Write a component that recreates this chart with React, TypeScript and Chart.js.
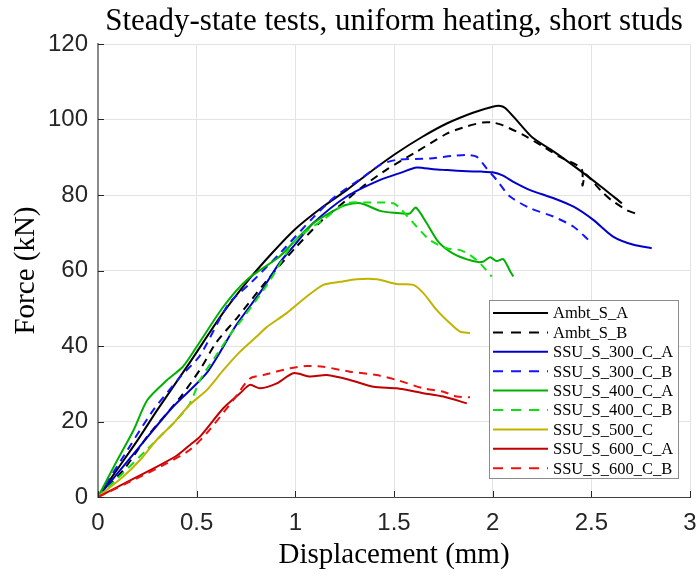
import React, { useEffect, useRef } from "react";
import { Chart, registerables } from "chart.js";

Chart.register(...registerables);

const titleText = "Steady-state tests, uniform heating, short studs";
const xTitle = "Displacement (mm)";
const yTitle = "Force (kN)";

const seriesNames = [
  "Ambt_S_A",
  "Ambt_S_B",
  "SSU_S_300_C_A",
  "SSU_S_300_C_B",
  "SSU_S_400_C_A",
  "SSU_S_400_C_B",
  "SSU_S_500_C",
  "SSU_S_600_C_A",
  "SSU_S_600_C_B",
];

const ambtA_x = [0, 0.1, 0.2, 0.3, 0.47, 0.63, 0.755, 0.88, 1.0, 1.13, 1.26, 1.39, 1.51, 1.64, 1.77, 1.9, 2.0, 2.04, 2.065, 2.12, 2.2, 2.31, 2.44, 2.55, 2.655];
const ambtA_y = [0, 7.5, 15, 23, 36, 48.5, 57, 64.5, 71, 76.5, 81.3, 86.5, 91, 95.3, 99, 101.8, 103.4, 103.6, 103, 99.9, 95.3, 91.5, 86.6, 82.2, 77.8];

const ambtB_x = [0, 0.13, 0.25, 0.42, 0.52, 0.6, 0.71, 0.85, 1.0, 1.13, 1.26, 1.34, 1.47, 1.6, 1.77, 1.87, 1.95, 2.0, 2.05, 2.155, 2.25, 2.34, 2.45, 2.455, 2.47, 2.5, 2.553, 2.6, 2.68, 2.73];
const ambtB_y = [0, 7.2, 16, 26.6, 34, 41, 47.8, 57, 66, 73, 78.7, 82.2, 87, 91, 96.3, 98.2, 99.2, 99.2, 98.5, 95.9, 93, 90.1, 87, 82.5, 85.5, 84, 80.9, 78.7, 76, 75];

const s300A_x = [0, 0.21, 0.38, 0.55, 0.7, 0.83, 0.92, 1.0, 1.09, 1.26, 1.43, 1.54, 1.615, 1.7, 1.77, 1.87, 1.94, 2.0, 2.05, 2.105, 2.19, 2.306, 2.41, 2.51, 2.61, 2.714, 2.806];
const s300A_y = [0, 13.3, 23.9, 32.8, 45.5, 54.8, 62, 67, 72.5, 79.6, 84, 86, 87.3, 86.8, 86.6, 86.3, 86.2, 86, 85.2, 83.5, 81.3, 79.2, 76.9, 73.4, 69, 66.8, 65.9];

const s300B_x = [0, 0.12, 0.28, 0.42, 0.517, 0.66, 0.78, 0.93, 1.09, 1.2, 1.345, 1.43, 1.514, 1.683, 1.8, 1.87, 1.92, 1.97, 2.02, 2.088, 2.19, 2.307, 2.41, 2.485];
const s300B_y = [0, 10, 23, 32, 37.5, 51, 57, 65, 74, 79.5, 84.8, 88, 89.3, 89.7, 90.4, 90.6, 90.1, 87, 84, 79.6, 76.5, 74.3, 71.6, 68.1];

const s400A_x = [0, 0.09, 0.18, 0.25, 0.35, 0.43, 0.5, 0.635, 0.754, 0.92, 1.0, 1.09, 1.2, 1.26, 1.33, 1.43, 1.5, 1.58, 1.61, 1.666, 1.725, 1.8, 1.9, 1.95, 1.987, 2.02, 2.054, 2.09, 2.105];
const s400A_y = [0, 9, 17.7, 25.7, 31, 34.5, 39.8, 50.4, 57.5, 63.7, 68, 72.5, 76, 77.4, 77.8, 75.8, 75.3, 75.1, 76.7, 72.5, 67.6, 64.5, 62.5, 62.3, 63.5, 62.5, 63, 59.7, 58.4];

const s400B_x = [0, 0.1, 0.247, 0.331, 0.4, 0.466, 0.517, 0.6, 0.686, 0.728, 0.862, 1.0, 1.14, 1.26, 1.35, 1.43, 1.497, 1.53, 1.615, 1.683, 1.767, 1.835, 1.885, 1.936, 1.995];
const s400B_y = [0, 5, 12.5, 16.9, 20.5, 24.8, 31, 37.6, 44.2, 46.9, 56.6, 68, 73.4, 77.8, 78, 78, 77.8, 76.5, 71.6, 68, 65.9, 65.4, 64.1, 61.9, 58.4];

const s500_x = [0, 0.128, 0.213, 0.297, 0.382, 0.466, 0.551, 0.635, 0.72, 0.804, 0.855, 0.956, 1.058, 1.142, 1.227, 1.311, 1.412, 1.514, 1.598, 1.649, 1.717, 1.784, 1.835, 1.885];
const s500_y = [0, 5.4, 9.8, 15.1, 19.5, 24.5, 28.3, 33.6, 38.5, 42.5, 45, 48.7, 53.1, 56.2, 57, 57.7, 57.7, 56.4, 56.2, 54, 49.5, 46, 43.8, 43.4];

const s600A_x = [0, 0.297, 0.4, 0.466, 0.517, 0.635, 0.72, 0.77, 0.821, 0.906, 0.99, 1.075, 1.16, 1.277, 1.395, 1.514, 1.649, 1.75, 1.869];
const s600A_y = [0, 8, 11, 13.8, 16, 23.5, 27.5, 29.7, 28.8, 30.1, 32.8, 31.9, 32.3, 31, 29.2, 28.8, 27.5, 26.6, 24.8];

const s600B_x = [0, 0.2, 0.348, 0.466, 0.551, 0.686, 0.77, 0.838, 0.973, 1.058, 1.142, 1.277, 1.412, 1.514, 1.649, 1.75, 1.818, 1.885];
const s600B_y = [0, 5, 8.9, 12.5, 16.9, 25.7, 31.4, 32.3, 34.1, 34.7, 34.5, 33.2, 32.3, 31, 28.8, 27.9, 26.6, 26.4];

const seriesX = [ambtA_x, ambtB_x, s300A_x, s300B_x, s400A_x, s400B_x, s500_x, s600A_x, s600B_x];
const seriesY = [ambtA_y, ambtB_y, s300A_y, s300B_y, s400A_y, s400B_y, s500_y, s600A_y, s600B_y];
const seriesColors = ["#000000", "#000000", "#0000c8", "#1414ff", "#00b000", "#10e010", "#c0b400", "#c00000", "#ee1010"];
const seriesDashed = [false, true, false, true, false, true, false, false, true];

const DASH = [8, 6];

const serif = "'Liberation Serif', 'Times New Roman', serif";
const sans = "'Liberation Sans', Arial, sans-serif";

const decorPlugin = {
  id: "decor",
  afterDraw(chart: any) {
    const ctx = chart.ctx;
    const area = chart.chartArea;
    const xs = chart.scales.x;
    const ys = chart.scales.y;
    ctx.save();
    // inside ticks
    ctx.strokeStyle = "#262626";
    ctx.lineWidth = 1;
    ctx.beginPath();
    xs.ticks.forEach((t: any) => {
      const px = Math.round(xs.getPixelForValue(t.value)) + 0.5;
      ctx.moveTo(px, area.bottom);
      ctx.lineTo(px, area.bottom - 6);
    });
    ys.ticks.forEach((t: any) => {
      const py = Math.round(ys.getPixelForValue(t.value)) + 0.5;
      ctx.moveTo(area.left, py);
      ctx.lineTo(area.left + 6, py);
    });
    ctx.stroke();

    // title
    ctx.fillStyle = "#000";
    ctx.textAlign = "center";
    ctx.textBaseline = "middle";
    ctx.font = `31px ${serif}`;
    ctx.fillText(titleText, (area.left + area.right) / 2, 22);
    // x title
    ctx.font = `29px ${serif}`;
    ctx.fillText(xTitle, (area.left + area.right) / 2, 555);
    // y title
    ctx.save();
    ctx.translate(26, (area.top + area.bottom) / 2);
    ctx.rotate(-Math.PI / 2);
    ctx.fillText(yTitle, 0, 0);
    ctx.restore();

    // legend
    const bx = 489, by = 300, bw = 189, bh = 178;
    ctx.fillStyle = "#ffffff";
    ctx.fillRect(bx, by, bw, bh);
    ctx.strokeStyle = "#8c8c8c";
    ctx.lineWidth = 1;
    ctx.strokeRect(bx + 0.5, by + 0.5, bw, bh);
    ctx.font = `16.5px ${serif}`;
    ctx.textAlign = "left";
    ctx.textBaseline = "middle";
    seriesNames.forEach((name, i) => {
      const yy = 313 + i * 19.4;
      ctx.beginPath();
      ctx.strokeStyle = seriesColors[i];
      ctx.lineWidth = 2;
      ctx.setLineDash(seriesDashed[i] ? [10, 8] : []);
      ctx.moveTo(493, yy);
      ctx.lineTo(548, yy);
      ctx.stroke();
      ctx.setLineDash([]);
      ctx.fillStyle = "#000";
      ctx.fillText(name, 553, yy + 1);
    });
    ctx.restore();
  },
};

export default function App() {
  const ref = useRef<HTMLCanvasElement>(null);
  useEffect(() => {
    document.body.style.margin = "0";
    const datasets = seriesNames.map((name, i) => ({
      label: name,
      data: seriesX[i].map((x, j) => ({ x, y: seriesY[i][j] })),
      borderColor: seriesColors[i],
      backgroundColor: seriesColors[i],
      borderWidth: 2,
      borderDash: seriesDashed[i] ? DASH : [],
      showLine: true,
      pointRadius: 0,
      tension: 0.25,
      fill: false,
      order: seriesNames.length - i,
    }));
    const chart = new Chart(ref.current as HTMLCanvasElement, {
      type: "scatter",
      data: { datasets },
      options: {
        animation: false,
        responsive: false,
        devicePixelRatio: 1,
        layout: { padding: { left: 0, top: 44, right: 10, bottom: 0 } },
        plugins: {
          legend: { display: false },
          title: { display: false },
          tooltip: { enabled: false },
        },
        scales: {
          x: {
            type: "linear",
            min: 0,
            max: 3,
            ticks: {
              stepSize: 0.5,
              padding: 12,
              color: "#262626",
              font: { family: sans, size: 24 },
              callback: (v: any) => String(Number(Number(v).toFixed(2))),
            },
            grid: { color: "#e3e3e3", drawTicks: false, lineWidth: 1 },
            border: { color: "#404040", width: 1 },
            afterFit: (s: any) => {
              s.height = 80;
              s.paddingLeft = 0;
              s.paddingRight = 0;
            },
          },
          y: {
            type: "linear",
            min: 0,
            max: 120,
            ticks: {
              stepSize: 20,
              padding: 10,
              color: "#262626",
              font: { family: sans, size: 24 },
            },
            grid: { color: "#e3e3e3", drawTicks: false, lineWidth: 1 },
            border: { color: "#8a8a8a", width: 2 },
            afterFit: (s: any) => {
              s.width = 98;
              s.paddingTop = 0;
              s.paddingBottom = 0;
            },
          },
        },
      },
      plugins: [decorPlugin],
    });
    return () => chart.destroy();
  }, []);
  return <canvas ref={ref} width={700} height={577} style={{ display: "block" }} />;
}
